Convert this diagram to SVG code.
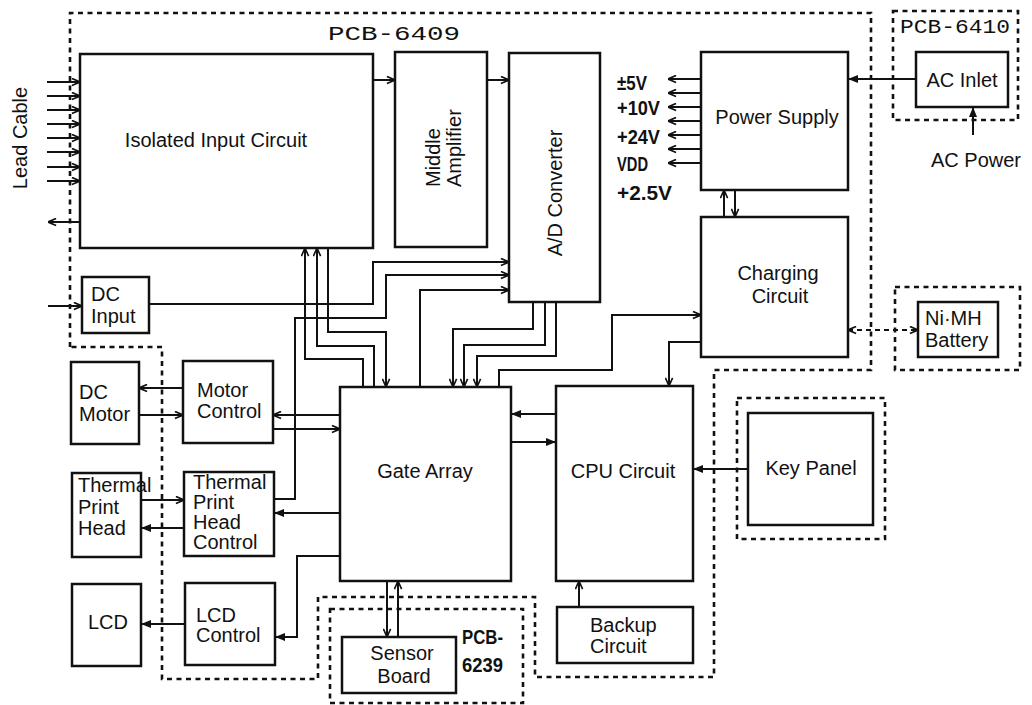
<svg xmlns="http://www.w3.org/2000/svg" width="1032" height="705" viewBox="0 0 1032 705">
<defs>
<marker id="op" viewBox="0 0 10 10" refX="10" refY="5" markerWidth="9" markerHeight="9" markerUnits="userSpaceOnUse" orient="auto-start-reverse"><path d="M1,1 L10,5 L1,9" fill="none" stroke="#111" stroke-width="1.8"/></marker>
<marker id="fl" viewBox="0 0 10 10" refX="10" refY="5" markerWidth="10" markerHeight="10" markerUnits="userSpaceOnUse" orient="auto-start-reverse"><path d="M0,1 L10,5 L0,9 z" fill="#111"/></marker>
<style>
.box{fill:#fff;stroke:#111;stroke-width:2.5}
.dash{fill:none;stroke:#111;stroke-width:2.6;stroke-dasharray:5 4.5}
.ln{fill:none;stroke:#111;stroke-width:2}
.o{marker-end:url(#op)}
.f{marker-end:url(#fl)}
text{font-family:"Liberation Sans",Arial,sans-serif;font-size:20px;fill:#111}
.c{text-anchor:middle}
.mono{font-family:"Liberation Mono","Courier New",monospace}
.v{font-size:20px;font-weight:bold}
</style>
</defs>
<rect width="1032" height="705" fill="#fff"/>

<g id="boundaries">
<path class="dash" d="M70,347 L70,13 L871,13 L871,370 L714,370 L714,677 L535,677 L535,597 L318,597 L318,679 L162,679 L162,347 Z"/>
<rect class="dash" x="893" y="11" width="125" height="109"/>
<rect class="dash" x="895" y="287" width="125" height="83"/>
<rect class="dash" x="737" y="398" width="148" height="141"/>
<rect class="dash" x="330" y="609" width="193" height="94"/>
<text class="mono" x="328" y="40" font-size="25" textLength="132" lengthAdjust="spacingAndGlyphs">PCB-6409</text>
<text class="mono" x="900" y="33" font-size="20" textLength="110" lengthAdjust="spacingAndGlyphs">PCB-6410</text>
<text class="v" x="462" y="644" textLength="41" lengthAdjust="spacingAndGlyphs">PCB-</text>
<text class="v" x="462" y="672" textLength="41" lengthAdjust="spacingAndGlyphs">6239</text>
</g>

<g id="connectors">
<path class="ln o" d="M47,82 H80"/>
<path class="ln o" d="M47,96 H80"/>
<path class="ln o" d="M47,110 H80"/>
<path class="ln o" d="M47,124 H80"/>
<path class="ln o" d="M47,138 H80"/>
<path class="ln o" d="M47,152 H80"/>
<path class="ln o" d="M47,167 H80"/>
<path class="ln o" d="M47,181 H80"/>
<path class="ln o" d="M80,222 H48"/>
<path class="ln o" d="M373,80 H395"/>
<path class="ln o" d="M487,80 H509"/>
<path class="ln o" d="M48,306 H82"/>
<path class="ln o" d="M149,304 H373 V262 H509"/>
<path class="ln o" d="M274,499 H295 V318 H386 V275 H509"/>
<path class="ln o" d="M420,387 V290 H509"/>
<path class="ln o" d="M533,302 V329 H453 V387"/>
<path class="ln o" d="M545,302 V345 H464 V387"/>
<path class="ln o" d="M556,302 V356 H477 V387"/>
<path class="ln o" d="M363,387 V359 H305 V248"/>
<path class="ln o" d="M374,387 V346 H317 V248"/>
<path class="ln o" d="M328,248 V332 H386 V387"/>
<path class="ln o" d="M499,387 V370 H612 V315 H701"/>
<path class="ln o" d="M701,342 H669 V386"/>
<path class="ln o" d="M724,217 V190"/>
<path class="ln o" d="M735,190 V217"/>
<path class="ln o" d="M701,79 H668"/>
<path class="ln o" d="M701,93 H668"/>
<path class="ln o" d="M701,107 H668"/>
<path class="ln o" d="M701,121 H668"/>
<path class="ln o" d="M701,135 H668"/>
<path class="ln o" d="M701,149 H668"/>
<path class="ln o" d="M701,163 H668"/>
<path class="ln f" d="M916,79 H848"/>
<path class="ln f" d="M973,135 V107"/>
<path class="ln" d="M848,330 H918" stroke-dasharray="5 4" marker-start="url(#op)" marker-end="url(#op)"/>
<path class="ln f" d="M556,414 H511"/>
<path class="ln f" d="M511,442 H556"/>
<path class="ln f" d="M748,469 H693"/>
<path class="ln o" d="M579,607 V581"/>
<path class="ln o" d="M387,581 V637"/>
<path class="ln o" d="M398,637 V581"/>
<path class="ln o" d="M340,415 H273"/>
<path class="ln o" d="M273,429 H340"/>
<path class="ln o" d="M183,388 H139"/>
<path class="ln o" d="M139,415 H183"/>
<path class="ln f" d="M340,513 H274"/>
<path class="ln o" d="M141,500 H184"/>
<path class="ln f" d="M184,528 H141"/>
<path class="ln f" d="M340,556 H297 V637 H275"/>
<path class="ln f" d="M185,624 H141"/>
</g>

<g id="lead-cable"><text class="c" transform="translate(27,138) rotate(-90)">Lead Cable</text></g>

<g id="isolated-input"><rect class="box" x="80" y="54" width="293" height="194"/><text class="c" x="216" y="147" font-size="21.5">Isolated Input Circuit</text></g>
<g id="middle-amplifier"><rect class="box" x="395" y="52" width="92" height="195"/>
<text transform="translate(440,187) rotate(-90)">Middle</text>
<text transform="translate(461,187) rotate(-90)" font-size="21">Amplifier</text></g>
<g id="ad-converter"><rect class="box" x="509" y="53" width="91" height="249"/><text class="c" transform="translate(562,193) rotate(-90)">A/D Converter</text></g>

<g id="voltages">
<text class="v" x="617" y="90" textLength="30" lengthAdjust="spacingAndGlyphs">±5V</text>
<text class="v" x="617" y="115" textLength="43" lengthAdjust="spacingAndGlyphs">+10V</text>
<text class="v" x="617" y="144" textLength="43" lengthAdjust="spacingAndGlyphs">+24V</text>
<text class="v" x="617" y="171" textLength="31" lengthAdjust="spacingAndGlyphs">VDD</text>
<text class="v" x="617" y="200" textLength="55" lengthAdjust="spacingAndGlyphs">+2.5V</text>
</g>

<g id="power-supply"><rect class="box" x="701" y="52" width="147" height="138"/><text class="c" x="777" y="124">Power Supply</text></g>
<g id="charging"><rect class="box" x="701" y="217" width="147" height="140"/><text class="c" x="778" y="280">Charging</text><text class="c" x="780" y="303">Circuit</text></g>
<g id="ac-inlet"><rect class="box" x="916" y="52" width="92" height="55"/><text class="c" x="962" y="87">AC Inlet</text></g>
<g id="ac-power"><text x="931" y="167" font-size="19.5">AC Power</text></g>
<g id="nimh"><rect class="box" x="918" y="302" width="80" height="55"/><text x="925" y="325">Ni·MH</text><text x="925" y="347">Battery</text></g>

<g id="dc-input"><rect class="box" x="82" y="277" width="67" height="56"/><text x="91" y="301">DC</text><text x="91" y="323">Input</text></g>
<g id="dc-motor"><rect class="box" x="71" y="362" width="68" height="82"/><text x="79" y="399">DC</text><text x="79" y="421">Motor</text></g>
<g id="motor-control"><rect class="box" x="183" y="361" width="90" height="82"/><text x="197" y="397">Motor</text><text x="197" y="418">Control</text></g>
<g id="thermal-head"><rect class="box" x="72" y="473" width="69" height="84"/><text x="78" y="492">Thermal</text><text x="78" y="514">Print</text><text x="78" y="535">Head</text></g>
<g id="thermal-control"><rect class="box" x="184" y="472" width="90" height="84"/><g font-size="18"><text x="193" y="489" font-size="18">Thermal</text><text x="193" y="509" font-size="18">Print</text><text x="193" y="529" font-size="18">Head</text><text x="193" y="549" font-size="18">Control</text></g></g>
<g id="lcd"><rect class="box" x="72" y="584" width="69" height="82"/><text class="c" x="108" y="629">LCD</text></g>
<g id="lcd-control"><rect class="box" x="185" y="583" width="90" height="82"/><text x="196" y="622">LCD</text><text x="196" y="642">Control</text></g>

<g id="gate-array"><rect class="box" x="340" y="387" width="171" height="194"/><text class="c" x="425" y="478" font-size="21">Gate Array</text></g>
<g id="cpu"><rect class="box" x="556" y="386" width="137" height="195"/><text class="c" x="623" y="478" font-size="21">CPU Circuit</text></g>
<g id="key-panel"><rect class="box" x="748" y="413" width="125" height="112"/><text class="c" x="811" y="475">Key Panel</text></g>
<g id="backup"><rect class="box" x="557" y="607" width="136" height="56"/><text x="590" y="632">Backup</text><text x="590" y="653">Circuit</text></g>
<g id="sensor-board"><rect class="box" x="342" y="637" width="114" height="56"/><text class="c" x="402" y="660">Sensor</text><text class="c" x="404" y="683">Board</text></g>
</svg>
